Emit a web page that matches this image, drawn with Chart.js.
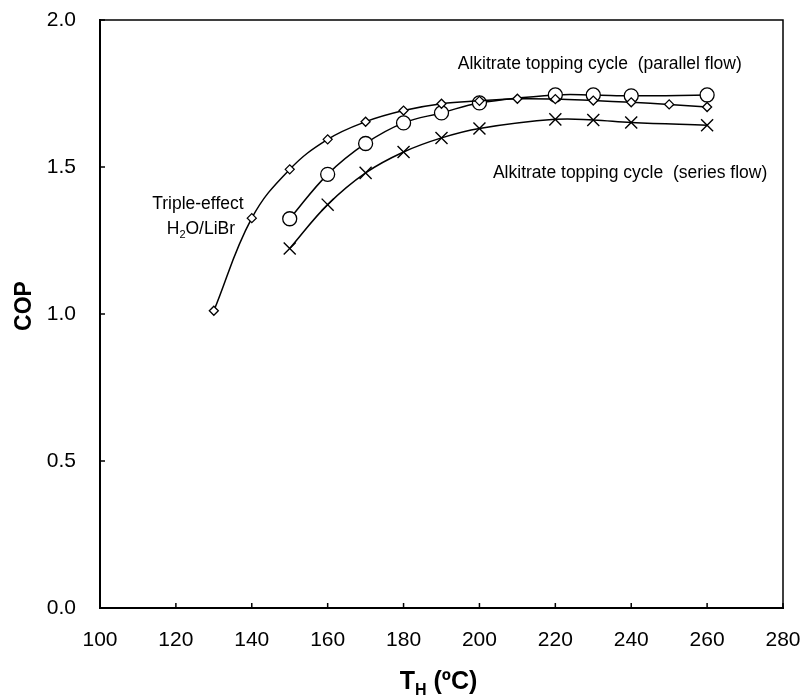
<!DOCTYPE html>
<html>
<head>
<meta charset="utf-8">
<script src="https://cdn.jsdelivr.net/npm/chart.js@4.4.0/dist/chart.umd.min.js"></script>
<style>
    html, body { margin: 0; padding: 0; background: #fff; }
    #wrap { width: 803px; height: 698px; }
</style>
</head>
<body>
<div id="wrap"><canvas id="copChart"></canvas></div>
<script>
// generator temperature (deg C) and COP for each cycle
const tripleT = [130, 140, 150, 160, 170, 180, 190, 200, 210, 220, 230, 240, 250, 260];
const tripleCop = [1.011, 1.326, 1.492, 1.594, 1.654, 1.692, 1.715, 1.725, 1.732, 1.731, 1.726, 1.720, 1.713, 1.704];

const parallelT = [150, 160, 170, 180, 190, 200, 220, 230, 240, 260];
const parallelCop = [1.324, 1.475, 1.580, 1.650, 1.684, 1.718, 1.745, 1.745, 1.742, 1.745];

const seriesT = [150, 160, 170, 180, 190, 200, 220, 230, 240, 260];
const seriesCop = [1.223, 1.372, 1.480, 1.551, 1.599, 1.631, 1.662, 1.660, 1.651, 1.642];

const xTicks = [100, 120, 140, 160, 180, 200, 220, 240, 260, 280];
const yTicks = [0, 0.5, 1.0, 1.5, 2.0];

// curve captions, anchored in data units
const captions = [
    { text: 'Alkitrate topping cycle  (parallel flow)', t: 231.7, cop: 1.850 },
    { text: 'Alkitrate topping cycle  (series flow)', t: 239.7, cop: 1.479 },
    { text: 'Triple-effect', t: 125.8, cop: 1.375 },
    { text: 'H|2|O/LiBr', t: 126.6, cop: 1.294 }
];

const FONT = '"Liberation Sans", Arial, sans-serif';

function toPoints(xs, ys) {
    return xs.map((x, i) => ({ x: x, y: ys[i] }));
}

// draws "a|b|c" with b as subscript, centred on cx
function drawSubText(ctx, parts, cx, cy, size, bold) {
    const w = bold ? 'bold ' : '';
    const big = w + size + 'px ' + FONT;
    const small = w + Math.round(size * 0.65) + 'px ' + FONT;
    ctx.font = big;
    const w0 = ctx.measureText(parts[0]).width;
    const w2 = parts[2] ? ctx.measureText(parts[2]).width : 0;
    ctx.font = small;
    const w1 = ctx.measureText(parts[1]).width;
    let x = cx - (w0 + w1 + w2) / 2;
    ctx.textAlign = 'left';
    ctx.textBaseline = 'alphabetic';
    const base = cy + size * 0.36;
    ctx.font = big;
    ctx.fillText(parts[0], x, base);
    x += w0;
    ctx.font = small;
    ctx.fillText(parts[1], x, base + size * 0.25);
    x += w1;
    if (parts[2]) {
        ctx.font = big;
        ctx.fillText(parts[2], x, base);
    }
}

const framePlugin = {
    id: 'frame',
    afterDraw(chart) {
        const { ctx, chartArea: a, scales } = chart;
        ctx.save();
        ctx.strokeStyle = '#000';
        ctx.fillStyle = '#000';

        // top and right edges of the box
        ctx.lineWidth = 1.5;
        ctx.beginPath();
        ctx.moveTo(a.left, a.top);
        ctx.lineTo(a.right, a.top);
        ctx.lineTo(a.right, a.bottom);
        ctx.stroke();

        // tick marks point into the plot
        ctx.beginPath();
        xTicks.forEach(v => {
            const px = scales.x.getPixelForValue(v);
            ctx.moveTo(px, a.bottom);
            ctx.lineTo(px, a.bottom - 5);
        });
        yTicks.forEach(v => {
            const py = scales.y.getPixelForValue(v);
            ctx.moveTo(a.left, py);
            ctx.lineTo(a.left + 5, py);
        });
        ctx.stroke();

        // captions
        captions.forEach(c => {
            const px = scales.x.getPixelForValue(c.t);
            const py = scales.y.getPixelForValue(c.cop);
            if (c.text.indexOf('|') >= 0) {
                drawSubText(ctx, c.text.split('|'), px, py, 17.5, false);
            } else {
                ctx.font = '17.5px ' + FONT;
                ctx.textAlign = 'center';
                ctx.textBaseline = 'middle';
                ctx.fillText(c.text, px, py);
            }
        });

        // axis titles
        drawSubText(ctx, ['T', 'H', ' (\u00baC)'], (a.left + a.right) / 2 - 3, 680, 25, true);

        ctx.font = 'bold 23px ' + FONT;
        ctx.textAlign = 'center';
        ctx.textBaseline = 'middle';
        ctx.translate(25, scales.y.getPixelForValue(1.0) - 8);
        ctx.rotate(-Math.PI / 2);
        ctx.fillText('COP', 0, 0);
        ctx.restore();
    }
};

const ctx = document.getElementById('copChart').getContext('2d');
new Chart(ctx, {
    type: 'line',
    data: {
        datasets: [
            {
                label: 'Triple-effect H2O/LiBr',
                data: toPoints(tripleT, tripleCop),
                borderColor: '#000',
                borderWidth: 1.5,
                tension: 0.4,
                pointStyle: 'rectRot',
                pointRadius: 4.5,
                pointBorderWidth: 1.3,
                pointBorderColor: '#000',
                pointBackgroundColor: '#fff'
            },
            {
                label: 'Alkitrate topping cycle (parallel flow)',
                data: toPoints(parallelT, parallelCop),
                borderColor: '#000',
                borderWidth: 1.5,
                tension: 0.4,
                pointStyle: 'circle',
                pointRadius: 7,
                pointBorderWidth: 1.3,
                pointBorderColor: '#000',
                pointBackgroundColor: '#fff'
            },
            {
                label: 'Alkitrate topping cycle (series flow)',
                data: toPoints(seriesT, seriesCop),
                borderColor: '#000',
                borderWidth: 1.5,
                tension: 0.4,
                pointStyle: 'crossRot',
                pointRadius: 8.5,
                pointBorderWidth: 1.4,
                pointBorderColor: '#000',
                pointBackgroundColor: '#fff'
            }
        ]
    },
    options: {
        responsive: true,
        maintainAspectRatio: false,
        animation: false,
        layout: { padding: { top: 20, right: 20, left: 0, bottom: 0 } },
        plugins: {
            legend: { display: false },
            tooltip: { enabled: false }
        },
        scales: {
            x: {
                type: 'linear',
                min: 100,
                max: 280,
                grid: { display: false, drawTicks: false },
                border: { display: true, color: '#000', width: 2 },
                ticks: {
                    stepSize: 20,
                    padding: 20,
                    color: '#000',
                    maxRotation: 0,
                    font: { family: FONT, size: 21 }
                },
                afterFit: s => {
                    s.height = 90;
                    s.paddingLeft = 0;
                    s.paddingRight = 0;
                }
            },
            y: {
                min: 0,
                max: 2,
                grid: { display: false, drawTicks: false },
                border: { display: true, color: '#000', width: 2 },
                ticks: {
                    stepSize: 0.5,
                    padding: 24,
                    color: '#000',
                    font: { family: FONT, size: 21 },
                    callback: v => v.toFixed(1)
                },
                afterFit: s => {
                    s.width = 100;
                    s.paddingTop = 0;
                    s.paddingBottom = 0;
                }
            }
        }
    },
    plugins: [framePlugin]
});
</script>
</body>
</html>
